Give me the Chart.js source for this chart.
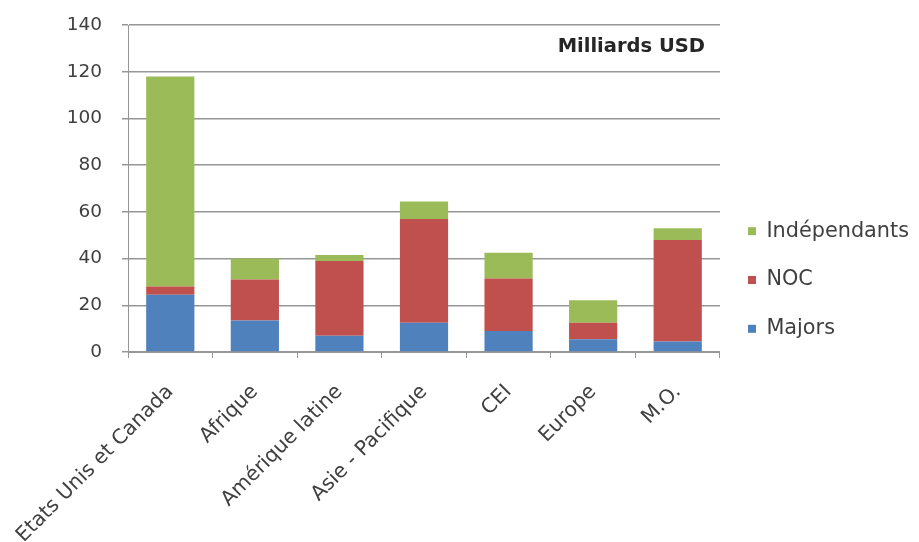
<!DOCTYPE html>
<html>
<head>
<meta charset="utf-8">
<script src="https://cdn.jsdelivr.net/npm/chart.js@4"></script>
<style>
  html, body { margin: 0; padding: 0; background: #ffffff; }
  #wrap { width: 919px; height: 542px; position: relative; }
</style>
</head>
<body>
<div id="wrap"><canvas id="c" width="919" height="542"></canvas></div>
<script>
const categories = ["Etats Unis et Canada", "Afrique", "Amérique latine", "Asie - Pacifique", "CEI", "Europe", "M.O."];
const majors = [24.5, 13.5, 7, 12.5, 9, 5.5, 4.5];
const noc = [3.5, 17.5, 32, 44.5, 22.5, 7, 43.5];
const independants = [90, 9, 2.5, 7.5, 11, 9.7, 5];
const yTicks = [0, 20, 40, 60, 80, 100, 120, 140];
const unitLabel = "Milliards USD";

const FONT = "'DejaVu Sans', 'Open Sans', sans-serif";

const unitPlugin = {
  id: 'unitLabel',
  afterDraw(chart) {
    const ctx = chart.ctx;
    const a = chart.chartArea;
    ctx.save();
    ctx.font = "bold 19.5px " + FONT;
    ctx.fillStyle = '#262626';
    ctx.textAlign = 'right';
    ctx.textBaseline = 'middle';
    ctx.fillText(unitLabel, a.right - 15, a.top + 22);
    ctx.restore();
  }
};

new Chart(document.getElementById('c'), {
  type: 'bar',
  data: {
    labels: categories,
    datasets: [
      { label: 'Majors', data: majors, backgroundColor: '#4F81BD' },
      { label: 'NOC', data: noc, backgroundColor: '#C0504D' },
      { label: 'Indépendants', data: independants, backgroundColor: '#9BBB59' }
    ]
  },
  options: {
    responsive: false,
    animation: false,
    devicePixelRatio: 1,
    layout: { padding: { top: 18, right: 0, bottom: 0, left: 0 } },
    datasets: { bar: { barPercentage: 0.57, categoryPercentage: 1.0 } },
    plugins: {
      legend: {
        position: 'right',
        reverse: true,
        labels: {
          boxWidth: 8, boxHeight: 8, padding: 28,
          color: '#404040',
          font: { family: FONT, size: 20.8 }
        }
      },
      tooltip: { enabled: false },
      title: { display: false }
    },
    scales: {
      x: {
        stacked: true,
        offset: true,
        grid: { offset: true, drawOnChartArea: false, drawTicks: true, tickLength: 6, color: '#969696' },
        border: { display: true, color: '#969696' },
        ticks: {
          maxRotation: 45, minRotation: 45, autoSkip: false, padding: 22,
          color: '#404040',
          font: { family: FONT, size: 20.3 }
        },
        afterFit(scale) {
          scale.height = 190;
          scale.paddingLeft = 0;
          scale.paddingRight = 0;
        }
      },
      y: {
        stacked: true,
        min: 0, max: 140,
        afterBuildTicks(scale) { scale.ticks = yTicks.map(v => ({ value: v })); },
        grid: { color: '#969696', lineWidth: 1.5, tickLength: 6 },
        border: { display: true, color: '#969696' },
        ticks: {
          padding: 20,
          color: '#404040',
          font: { family: FONT, size: 18.5, lineHeight: 0.55 }
        },
        afterFit(scale) { scale.width = 128; }
      }
    }
  },
  plugins: [unitPlugin]
});
</script>
</body>
</html>
